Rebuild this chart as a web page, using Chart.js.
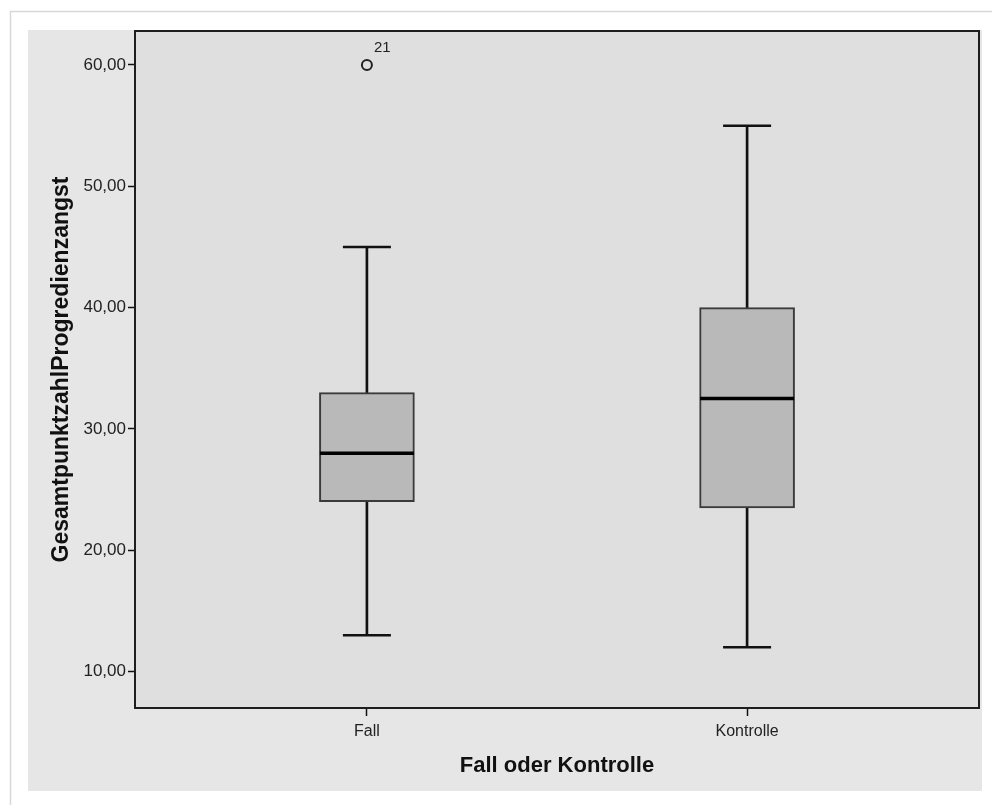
<!DOCTYPE html>
<html>
<head>
<meta charset="utf-8">
<script src="https://cdn.jsdelivr.net/npm/chart.js@4.4.1/dist/chart.umd.min.js"></script>
<style>
  body { margin: 0; background: #fff; }
  canvas { display: block; }
</style>
</head>
<body>
<canvas id="box" width="992" height="805"></canvas>
<script>
// groups on the x axis (1 = Fall, 2 = Kontrolle)
let groups = ["Fall", "Kontrolle"];
let groupPos = [1, 2];

// box plot values
let whiskerLow = [13, 12];
let q1 = [24, 23.5];
let median = [28, 32.5];
let q3 = [33, 40];
let whiskerHigh = [45, 55];

// outliers
let outlierGroup = [1];
let outlierValue = [60];
let outlierId = ["21"];

let yTicks = [10, 20, 30, 40, 50, 60];

let boxes = [];
let whiskers = [];
let caps = [];
let medians = [];
for (let i = 0; i < groups.length; i++) {
  boxes.push({ x: groupPos[i], y: [q1[i], q3[i]] });
  whiskers.push({ x: groupPos[i], y: [whiskerLow[i], whiskerHigh[i]] });
  caps.push({ x: groupPos[i], y: whiskerLow[i] });
  caps.push({ x: groupPos[i], y: whiskerHigh[i] });
  medians.push({ x: groupPos[i], y: median[i] });
}
let outliers = [];
for (let i = 0; i < outlierValue.length; i++) {
  outliers.push({ x: outlierGroup[i], y: outlierValue[i] });
}

// no extra label padding, so the plot box sits where the reference has it
function noPad(s) {
  s.paddingTop = 0;
  s.paddingBottom = 0;
  s.paddingLeft = 0;
  s.paddingRight = 0;
}

// background frame like the SPSS export
let frame = {
  id: "frame",
  beforeDraw(chart) {
    let ctx = chart.ctx;
    let a = chart.chartArea;
    ctx.save();
    ctx.fillStyle = "#ffffff";
    ctx.fillRect(0, 0, chart.width, chart.height);
    ctx.strokeStyle = "#d8d8d8";
    ctx.lineWidth = 1.5;
    ctx.beginPath();
    ctx.moveTo(10.5, 805);
    ctx.lineTo(10.5, 11.5);
    ctx.lineTo(992, 11.5);
    ctx.stroke();
    ctx.fillStyle = "#e6e6e6";
    ctx.fillRect(28, 30, 954, 761);
    ctx.fillStyle = "#dfdfdf";
    ctx.fillRect(a.left, a.top, a.right - a.left, a.bottom - a.top);
    ctx.restore();
  },
  afterDatasetsDraw(chart) {
    let ctx = chart.ctx;
    let a = chart.chartArea;
    let xs = chart.scales.x;
    let ys = chart.scales.y;
    ctx.save();
    ctx.strokeStyle = "#1e1e1e";
    ctx.lineWidth = 2;
    ctx.strokeRect(a.left, a.top, a.right - a.left, a.bottom - a.top);
    ctx.fillStyle = "#222";
    ctx.font = "15px 'Liberation Sans', Arial, sans-serif";
    ctx.textBaseline = "middle";
    ctx.textAlign = "left";
    for (let i = 0; i < outlierId.length; i++) {
      let px = xs.getPixelForValue(outlierGroup[i]);
      let py = ys.getPixelForValue(outlierValue[i]);
      ctx.fillText(outlierId[i], px + 7, py - 17);
    }
    ctx.restore();
  }
};

let config = {
  type: "bar",
  data: {
    datasets: [
      {
        type: "bar",
        data: whiskers,
        backgroundColor: "#111",
        borderWidth: 0,
        barThickness: 2,
        grouped: false,
        order: 3
      },
      {
        type: "bar",
        data: boxes,
        backgroundColor: "#b9b9b9",
        borderColor: "#3a3a3a",
        borderWidth: 2,
        borderSkipped: false,
        barThickness: 95,
        grouped: false,
        order: 2
      },
      {
        type: "scatter",
        data: caps,
        pointStyle: "line",
        radius: 24,
        borderColor: "#111",
        borderWidth: 2.5,
        order: 1
      },
      {
        type: "scatter",
        data: medians,
        pointStyle: "line",
        radius: 47,
        borderColor: "#000",
        borderWidth: 3.5,
        order: 1
      },
      {
        type: "scatter",
        data: outliers,
        pointStyle: "circle",
        radius: 5,
        borderColor: "#222",
        borderWidth: 2,
        backgroundColor: "rgba(0,0,0,0)",
        order: 1
      }
    ]
  },
  options: {
    responsive: false,
    animation: false,
    devicePixelRatio: 1,
    layout: { autoPadding: false, padding: { left: 28, top: 31, right: 13, bottom: 14 } },
    plugins: {
      legend: { display: false },
      tooltip: { enabled: false }
    },
    scales: {
      x: {
        type: "linear",
        min: 0.39,
        max: 2.61,
        offset: false,
        afterBuildTicks: (s) => { s.ticks = groupPos.map((v) => ({ value: v })); },
        afterFit: (s) => { s.height = 83; noPad(s); },
        grid: { offset: false, drawOnChartArea: false, tickLength: 8, color: "#111", tickWidth: 1.5 },
        border: { display: true, color: "#1e1e1e", width: 2 },
        ticks: {
          color: "#222",
          padding: 6,
          maxRotation: 0,
          font: { family: "'Liberation Sans', Arial, sans-serif", size: 16 },
          callback: (v) => groups[groupPos.indexOf(v)]
        },
        title: {
          display: true,
          text: "Fall oder Kontrolle",
          color: "#111",
          padding: { top: 0, bottom: 12 },
          font: { family: "'Liberation Sans', Arial, sans-serif", size: 22, weight: "bold" }
        }
      },
      y: {
        min: 7.0,
        max: 62.8,
        afterBuildTicks: (s) => { s.ticks = yTicks.map((v) => ({ value: v })); },
        afterFit: (s) => { s.width = 107; noPad(s); },
        grid: { drawOnChartArea: false, tickLength: 7, color: "#111", tickWidth: 1.5 },
        border: { display: true, color: "#1e1e1e", width: 2 },
        ticks: {
          color: "#222",
          padding: 2,
          font: { family: "'Liberation Sans', Arial, sans-serif", size: 17 },
          callback: (v) => v.toFixed(2).replace(".", ",")
        },
        title: {
          display: true,
          text: "GesamtpunktzahlProgredienzangst",
          color: "#111",
          padding: { top: 20, bottom: 0 },
          font: { family: "'Liberation Sans', Arial, sans-serif", size: 23, weight: "bold" }
        }
      }
    }
  },
  plugins: [frame]
};

window.onload = function() {
  let ctx = document.getElementById("box").getContext("2d");
  window.chart = new Chart(ctx, config);
};
</script>
</body>
</html>
